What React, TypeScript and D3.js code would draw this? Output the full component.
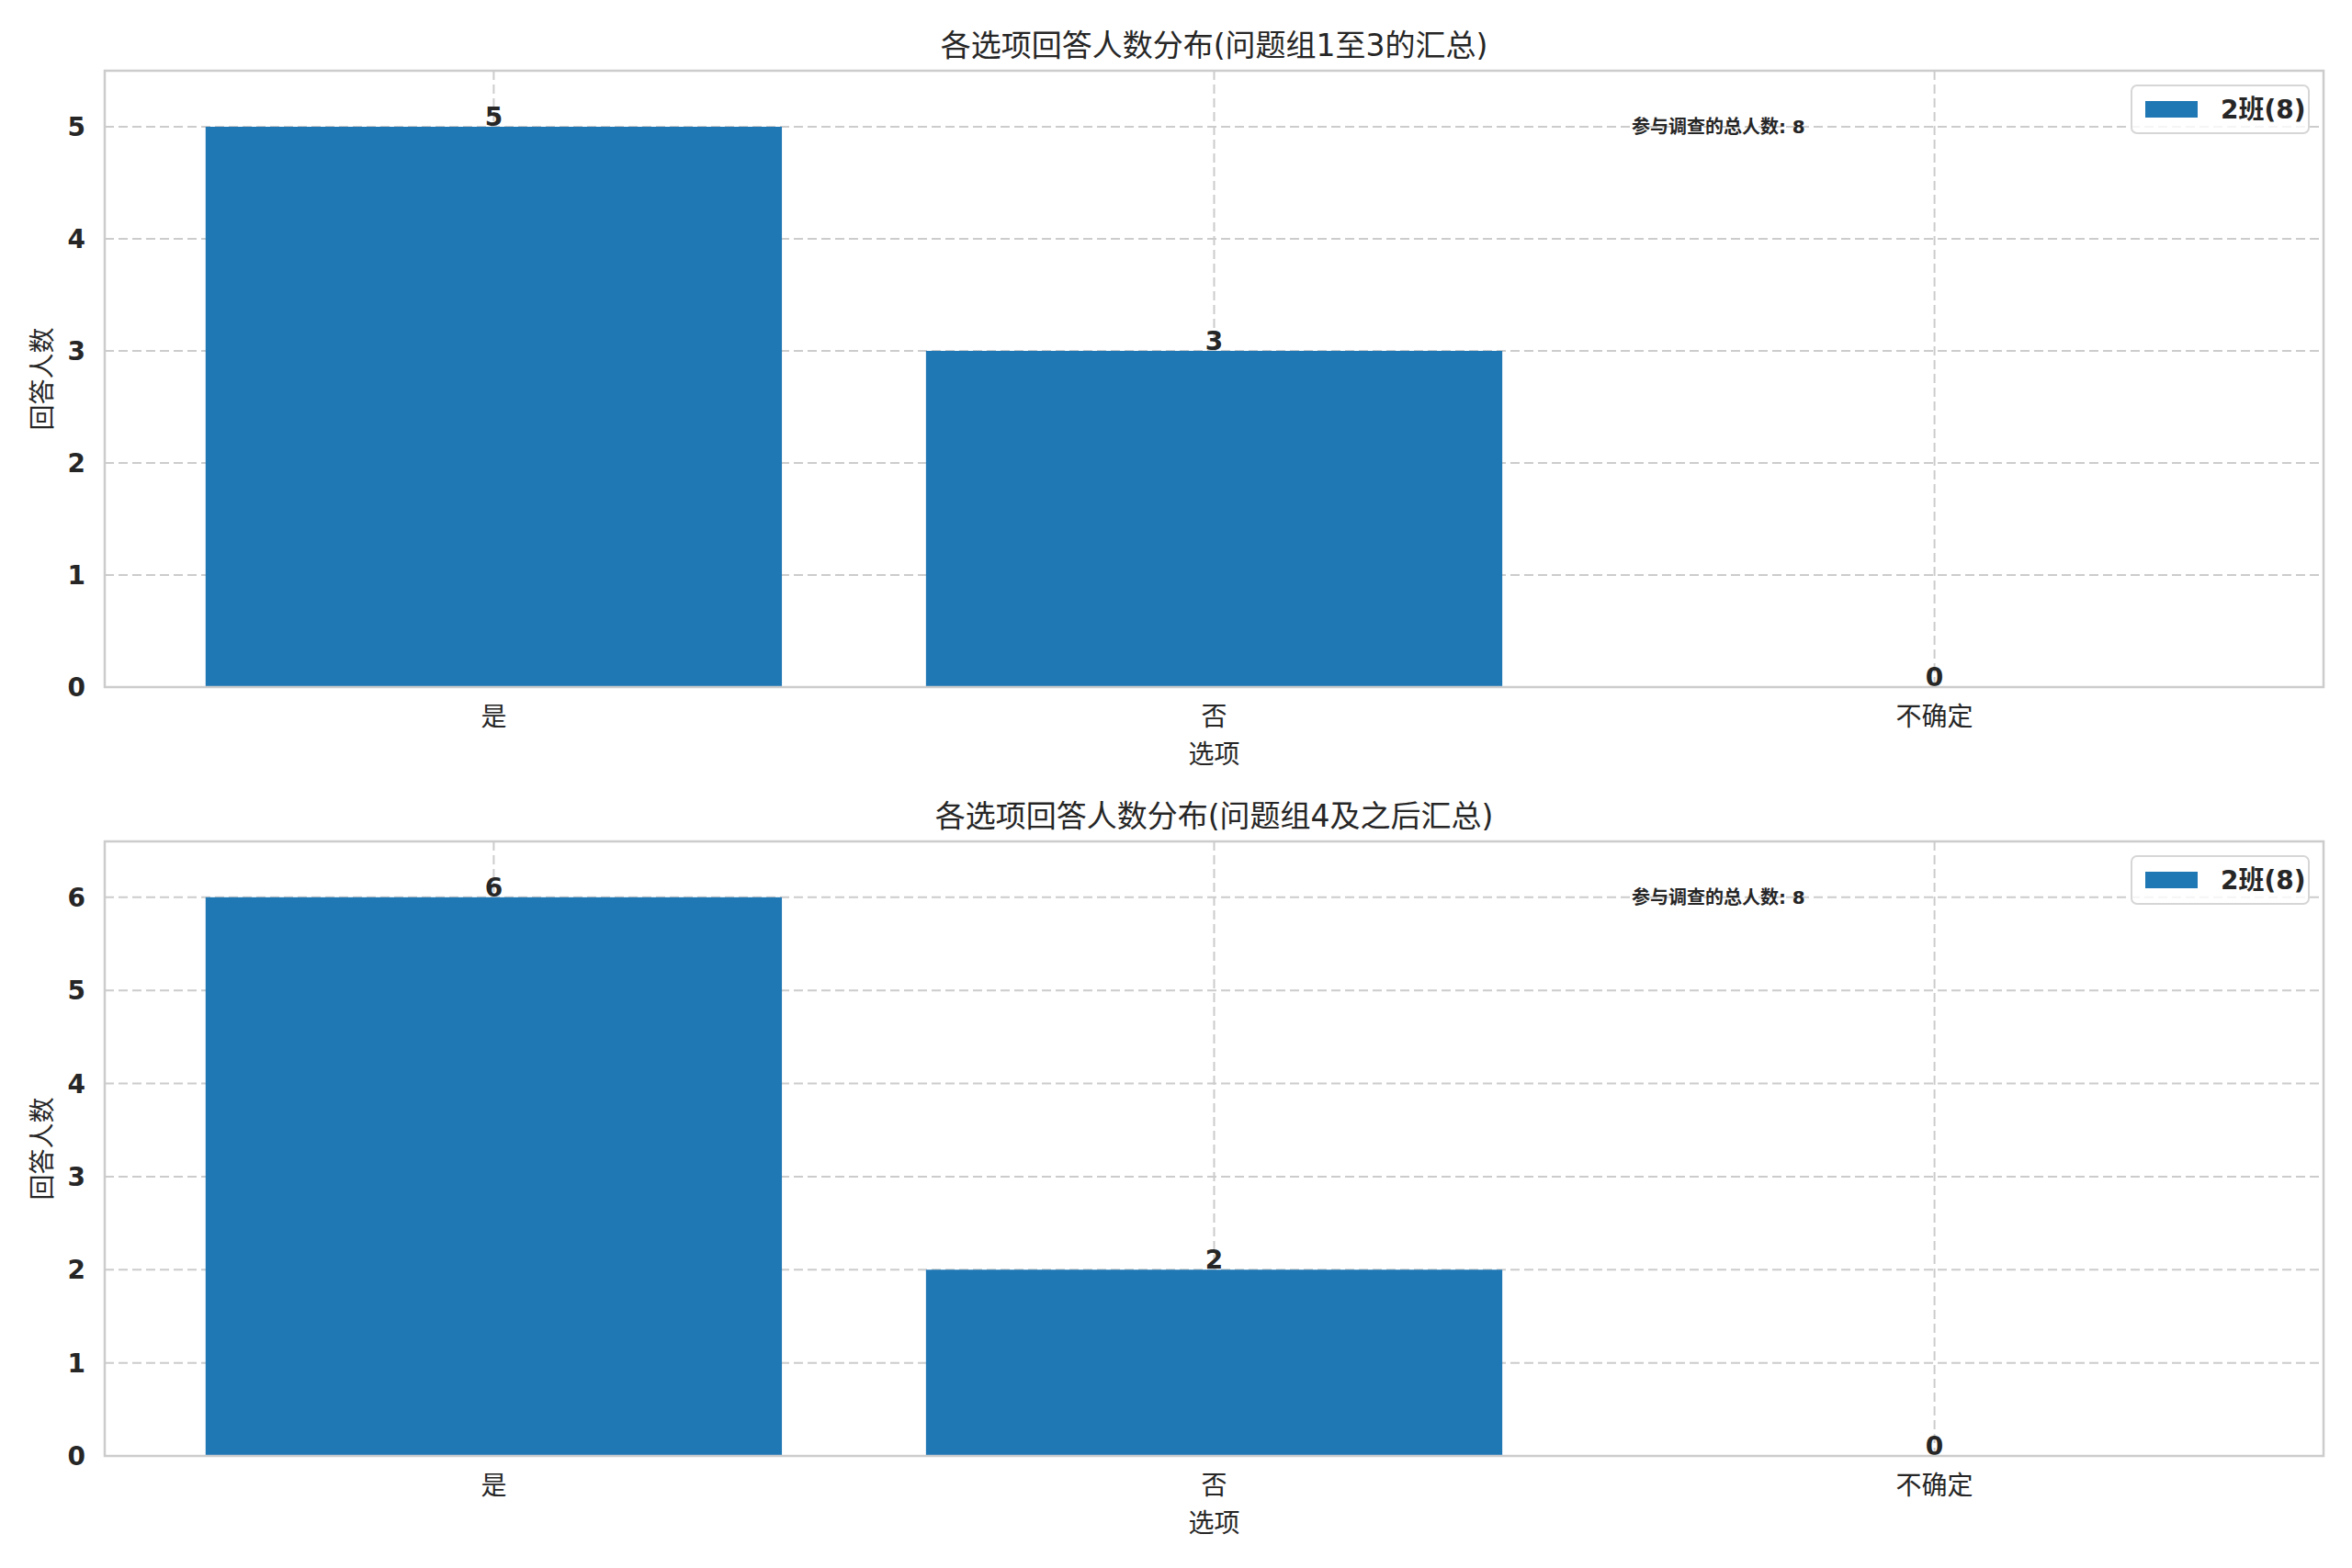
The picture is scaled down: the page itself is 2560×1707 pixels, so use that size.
import * as d3 from 'd3';

// =============================================================================
// Data
// =============================================================================

const categories = ['是', '否', '不确定'];
const countsFirst = [5, 3, 0];
const countsSecond = [6, 2, 0];
const panelTitles = [
  '各选项回答人数分布(问题组1至3的汇总)',
  '各选项回答人数分布(问题组4及之后汇总)',
];
const legendLabel = '2班(8)';
const totalLabel = '参与调查的总人数: 8';
const xAxisLabel = '选项';
const yAxisLabel = '回答人数';

// =============================================================================
// Constants
// =============================================================================

const WIDTH = 2560;
const HEIGHT = 1707;
const LEFT = 114;
const RIGHT = 2529;
const PANELS = [
  { top: 77, bottom: 748 },
  { top: 916, bottom: 1585 },
];
const FONT = '"DejaVu Sans", "Noto Sans CJK SC", sans-serif';
const TEXT = '#262626';
const GRID = '#cccccc';
const BAR = '#1f77b4';

interface PanelProps {
  title: string;
  values: number[];
  top: number;
  bottom: number;
}

function Panel({ title, values, top, bottom }: PanelProps) {
  const maxVal = d3.max(values) ?? 1;
  const x = d3.scaleLinear().domain([-0.54, categories.length - 1 + 0.54]).range([LEFT, RIGHT]);
  const y = d3.scaleLinear().domain([0, maxVal * 1.1]).range([bottom, top]);
  const yTicks = y.ticks(6).filter((t) => Number.isInteger(t));
  const barW = x(0.4) - x(-0.4);

  return (
    <g fontFamily={FONT} fill={TEXT}>
      {/* grid */}
      {yTicks.map((t) => (
        <line key={`gy${t}`} x1={LEFT} x2={RIGHT} y1={y(t)} y2={y(t)}
          stroke={GRID} strokeWidth={2} strokeDasharray="10,5" />
      ))}
      {categories.map((c, i) => (
        <line key={`gx${c}`} x1={x(i)} x2={x(i)} y1={top} y2={bottom}
          stroke={GRID} strokeWidth={2} strokeDasharray="10,5" />
      ))}

      {/* bars */}
      {values.map((v, i) => (
        <rect key={`b${i}`} x={x(i) - barW / 2} y={y(v)} width={barW}
          height={y(0) - y(v)} fill={BAR} />
      ))}

      {/* bar labels */}
      {values.map((v, i) => (
        <text key={`l${i}`} x={x(i)} y={y(v) - 1} textAnchor="middle"
          fontSize={28} fontWeight="bold">{v}</text>
      ))}

      {/* spines */}
      <rect x={LEFT} y={top} width={RIGHT - LEFT} height={bottom - top}
        fill="none" stroke={GRID} strokeWidth={2.5} />

      {/* y ticks */}
      {yTicks.map((t) => (
        <text key={`ty${t}`} x={LEFT - 21} y={y(t) + 10} textAnchor="end"
          fontSize={28} fontWeight="bold">{t}</text>
      ))}

      {/* x ticks */}
      {categories.map((c, i) => (
        <text key={`tx${c}`} x={x(i)} y={bottom + 42} textAnchor="middle"
          fontSize={28}>{c}</text>
      ))}

      {/* axis labels */}
      <text x={(LEFT + RIGHT) / 2} y={bottom + 83} textAnchor="middle" fontSize={28}>
        {xAxisLabel}
      </text>
      <text transform={`translate(56,${(top + bottom) / 2}) rotate(-90)`}
        textAnchor="middle" fontSize={28}>{yAxisLabel}</text>

      {/* title */}
      <text x={(LEFT + RIGHT) / 2} y={top - 16} textAnchor="middle" fontSize={33}>
        {title}
      </text>

      {/* total annotation */}
      <text x={x(categories.length - 1.3)} y={y(maxVal) + 7} textAnchor="middle"
        fontSize={20} fontWeight="bold">{totalLabel}</text>

      {/* legend */}
      <rect x={2320} y={top + 16} width={193} height={52} rx={6}
        fill="white" fillOpacity={0.8} stroke="#d6d6d6" strokeWidth={2} />
      <rect x={2335} y={top + 33} width={57} height={18} fill={BAR} />
      <text x={2417} y={top + 52} fontSize={28} fontWeight="bold">{legendLabel}</text>
    </g>
  );
}

export default function App() {
  const series = [countsFirst, countsSecond];
  return (
    <div style={{ position: 'absolute', left: 0, top: 0 }}>
      <svg width={WIDTH} height={HEIGHT} style={{ display: 'block', background: 'white' }}>
        {PANELS.map((p, i) => (
          <Panel key={i} title={panelTitles[i]} values={series[i]} top={p.top} bottom={p.bottom} />
        ))}
      </svg>
    </div>
  );
}
